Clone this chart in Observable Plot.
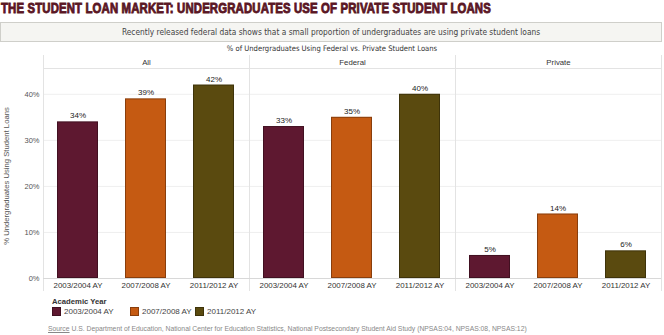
<!DOCTYPE html>
<html>
<head>
<meta charset="utf-8">
<script src="https://cdn.jsdelivr.net/npm/d3@7"></script>
<script src="https://cdn.jsdelivr.net/npm/@observablehq/plot@0.6"></script>
<style>
  html, body { margin: 0; padding: 0; background: #fff; }
  #root { position: relative; width: 664px; height: 335px; overflow: hidden; font-family: "Liberation Sans", Arial, sans-serif; }
  #title { position: absolute; left: 1px; top: 0px; font-size: 15px; font-weight: bold; color: #5a1624; white-space: nowrap; transform-origin: 0 0; -webkit-text-stroke: 0.9px #5a1624; letter-spacing: 0.2px; line-height: 16px; }
  #subtitle { position: absolute; left: 0; top: 22px; width: 660px; height: 18px; border: 1px solid #cfcfca; background: #f5f5f2; text-align: center; font-family: "DejaVu Sans Condensed", "DejaVu Sans", sans-serif; font-size: 8.3px; line-height: 18px; color: #444; }
  #heading { position: absolute; top: 44px; left: 332px; transform: translateX(-50%); white-space: nowrap; font-family: "DejaVu Sans Condensed", "DejaVu Sans", sans-serif; font-size: 7.6px; color: #333; }
  #chart { position: absolute; left: 0; top: 52px; }
  #ylabel { position: absolute; left: 6px; top: 176px; transform: translate(-50%, -50%) rotate(-90deg); white-space: nowrap; font-size: 7.7px; color: #555; }
  #legend { position: absolute; left: 52px; top: 297px; }
  #legend .lt { font-size: 7.7px; font-weight: bold; color: #333; line-height: 9px; }
  #legend .items { position: relative; height: 12px; }
  #legend .item { position: absolute; top: 1px; display: flex; align-items: center; font-size: 8px; color: #444; white-space: nowrap; line-height: 9px; }
  #legend .sw { width: 9px; height: 9px; margin-right: 3px; box-sizing: border-box; border: 1px solid rgba(0,0,0,0.3); }
  #source { position: absolute; left: 48px; top: 325px; font-size: 6.8px; color: #888; white-space: nowrap; }
  #source u { text-decoration: underline; }
</style>
</head>
<body>
<div id="root">
  <div id="title">THE STUDENT LOAN MARKET: UNDERGRADUATES USE OF PRIVATE STUDENT LOANS</div>
  <div id="subtitle">Recently released federal data shows that a small proportion of undergraduates are using private student loans</div>
  <div id="heading">% of Undergraduates Using Federal vs. Private Student Loans</div>
  <div id="chart"></div>
  <div id="ylabel">% Undergraduates Using Student Loans</div>
  <div id="legend"><div class="lt">Academic Year</div><div class="items"></div></div>
  <div id="source"><u>Source</u> U.S. Department of Education, National Center for Education Statistics, National Postsecondary Student Aid Study (NPSAS:04, NPSAS:08, NPSAS:12)</div>
</div>
<script>
const loanTypes = ["All", "Federal", "Private"];
const years = ["2003/2004 AY", "2007/2008 AY", "2011/2012 AY"];
const allValues = [34, 39, 42];
const federalValues = [33, 35, 40];
const privateValues = [5, 14, 6];
const yTicks = [0, 10, 20, 30, 40];
const yearColors = ["#5e1830", "#c55a12", "#5a4a0f"];

const series = [allValues, federalValues, privateValues];
const data = [];
loanTypes.forEach((t, i) => years.forEach((y, j) => data.push({type: t, year: y, value: series[i][j]})));

// fit title width
const title = document.getElementById("title");
const tw = title.scrollWidth;
title.style.transform = `scaleX(${490 / tw})`;

const lineColor = "#e3e3e3";
const plot = Plot.plot({
  width: 664,
  height: 240,
  marginLeft: 42,
  marginRight: 2,
  marginTop: 16,
  marginBottom: 14,
  style: {fontFamily: "'Liberation Sans', Arial, sans-serif", background: "transparent"},
  fx: {domain: loanTypes, paddingInner: 0, paddingOuter: 0},
  x: {domain: years, paddingInner: 0.39, paddingOuter: 0.195},
  y: {domain: [0, 45.6]},
  color: {domain: years, range: yearColors},
  marks: [
    Plot.gridY(yTicks.slice(1), {stroke: "#efefef", strokeOpacity: 1}),
    Plot.frame({anchor: "left", stroke: lineColor, insetTop: -13, insetBottom: -12}),
    Plot.frame({anchor: "right", stroke: lineColor, insetTop: -13, insetBottom: -12}),
    Plot.frame({anchor: "top", stroke: lineColor}),
    Plot.ruleY([0], {stroke: "#d8d8d8"}),
    Plot.barY(data, {fx: "type", x: "year", y: "value", fill: "year"}),
    Plot.barY(data, {fx: "type", x: "year", y: "value", fill: "none", stroke: "#000", strokeOpacity: 0.3, inset: 0.5}),
    Plot.text(data, {fx: "type", x: "year", y: "value", text: d => d.value + "%", dy: -6, fontSize: 8, fill: "#222"}),
    Plot.axisX({tickSize: 0, tickPadding: 4, fontSize: 7.9, label: null, color: "#333"}),
    Plot.axisFx({anchor: "top", tickSize: 0, tickPadding: 4, fontSize: 7.8, label: null, color: "#333"}),
    Plot.axisY({ticks: yTicks, tickSize: 0, tickPadding: 4, tickFormat: d => d + "%", fontSize: 7.5, label: null, color: "#555"})
  ]
});
document.getElementById("chart").appendChild(plot);

// legend
const items = document.querySelector("#legend .items");
const lx = [0, 78, 143];
years.forEach((y, i) => {
  const it = document.createElement("div");
  it.className = "item";
  it.style.left = lx[i] + "px";
  it.innerHTML = `<span class="sw" style="background:${yearColors[i]}"></span>${y}`;
  items.appendChild(it);
});
</script>
</body>
</html>
